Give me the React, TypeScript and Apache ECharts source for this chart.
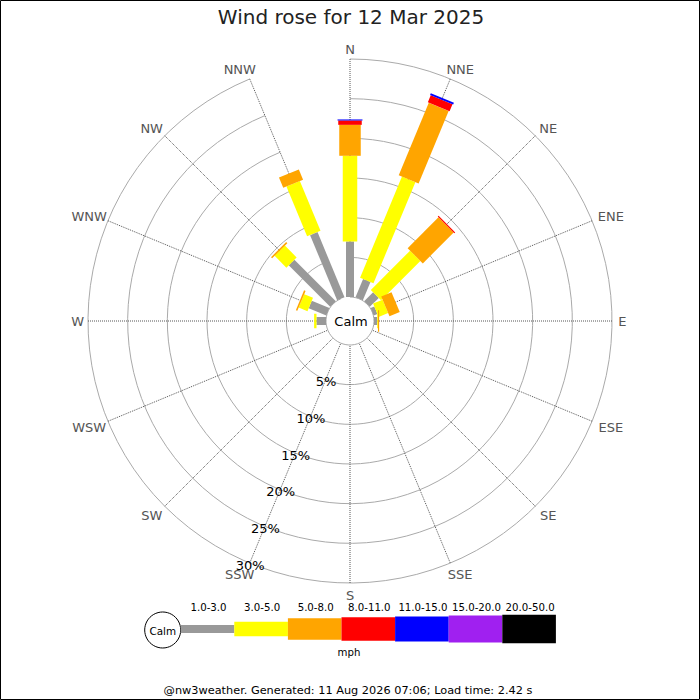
import React, { useEffect, useRef } from 'react';
import * as echarts from 'echarts';

const TITLE = 'Wind rose for 12 Mar 2025';
const FOOTER = '@nw3weather. Generated: 11 Aug 2026 07:06; Load time: 2.42 s';
const UNIT_LABEL = 'mph';
const CALM_LABEL = 'Calm';

const DIRS = ['N', 'NNE', 'NE', 'ENE', 'E', 'ESE', 'SE', 'SSE', 'S', 'SSW', 'SW', 'WSW', 'W', 'WNW', 'NW', 'NNW'];
const BAND_LABELS = ['1.0-3.0', '3.0-5.0', '5.0-8.0', '8.0-11.0', '11.0-15.0', '15.0-20.0', '20.0-50.0'];
const BAND_COLORS = ['#999999', '#ffff00', '#ffa500', '#ff0000', '#0000ff', '#a020f0', '#000000'];
const BAND_WIDTHS = [8, 14.5, 21.5, 23.5, 25, 27, 28.5];

// % of time per direction (N .. NNW) for each speed band (mph)
const S_1_3 = [7.0, 2.5, 1.6, 0.5, 0.4, 0, 0, 0, 0, 0, 0, 0, 1.2, 2.4, 7.4, 8.9];
const S_3_5 = [10.8, 13.8, 7.0, 1.3, 0.1, 0, 0, 0, 0, 0, 0, 0, 0.3, 1.2, 2.1, 6.8];
const S_5_8 = [3.9, 9.9, 5.5, 1.4, 0.15, 0, 0, 0, 0, 0, 0, 0, 0, 0.2, 0.2, 1.4];
const S_8_11 = [0.55, 0.95, 0.15, 0, 0, 0, 0, 0, 0, 0, 0, 0, 0, 0, 0, 0];
const S_11_15 = [0.13, 0.25, 0, 0, 0, 0, 0, 0, 0, 0, 0, 0, 0, 0, 0, 0];
const S_15_20 = [0, 0, 0, 0, 0, 0, 0, 0, 0, 0, 0, 0, 0, 0, 0, 0];
const S_20_50 = [0, 0, 0, 0, 0, 0, 0, 0, 0, 0, 0, 0, 0, 0, 0, 0];

const RADIUS_TICKS = [5, 10, 15, 20, 25, 30];
const RMAX = 30;
const LABEL_DIR = 'SSW';

const FONT = "'DejaVu Sans', sans-serif";

function txt(text: string, x: number, y: number, size: number, fill: string, align = 'center', valign = 'middle') {
  return {
    type: 'text',
    x,
    y,
    silent: true,
    style: {
      text,
      fill,
      font: `${size}px ${FONT}`,
      align,
      verticalAlign: valign,
      textAlign: align,
      textVerticalAlign: valign,
    },
  };
}

export default function App() {
  const ref = useRef<HTMLDivElement>(null);

  useEffect(() => {
    if (!ref.current) return;
    const chart = echarts.init(ref.current, null, { renderer: 'svg', width: 700, height: 700 });

    const bands = [S_1_3, S_3_5, S_5_8, S_8_11, S_11_15, S_15_20, S_20_50];
    const barData: number[][] = [];
    DIRS.forEach((_, d) => {
      let cum = 0;
      bands.forEach((arr, b) => {
        const v = arr[d];
        if (v > 0) {
          barData.push([cum + v, d, cum, b]);
          cum += v;
        }
      });
    });

    const unit = (api: any, d: number) => {
      const a = api.coord([0, d]);
      const b = api.coord([RMAX, d]);
      const dx = b[0] - a[0];
      const dy = b[1] - a[1];
      const L = Math.hypot(dx, dy) || 1;
      return [dx / L, dy / L];
    };

    const labelDirIdx = DIRS.indexOf(LABEL_DIR);

    // legend graphics
    const legendX0 = 180.7;
    const segW = 53.6;
    const legendY = 629;
    const legend: any[] = [];
    legend.push({
      type: 'circle',
      shape: { cx: 162.7, cy: 630, r: 18 },
      style: { fill: '#fff', stroke: '#000', lineWidth: 1 },
      silent: true,
    });
    legend.push(txt(CALM_LABEL, 162.7, 630.5, 10.4, '#000'));
    BAND_LABELS.forEach((lab, i) => {
      const h = BAND_WIDTHS[i];
      legend.push({
        type: 'rect',
        shape: { x: legendX0 + i * segW, y: legendY - h / 2, width: segW, height: h },
        style: { fill: BAND_COLORS[i] },
        silent: true,
      });
      legend.push(txt(lab, legendX0 + i * segW + segW / 2 + 1, 607, 10.2, '#000'));
    });

    const option: any = {
      animation: false,
      backgroundColor: '#fff',
      polar: { center: [350, 321], radius: [24, 262] },
      angleAxis: {
        type: 'category',
        data: DIRS,
        startAngle: 90,
        clockwise: true,
        boundaryGap: false,
        axisLine: { show: false },
        axisTick: { show: false },
        axisLabel: { show: false },
        splitLine: { show: true, lineStyle: { color: '#555', type: 'dotted', width: 1 } },
      },
      radiusAxis: {
        type: 'value',
        min: 0,
        max: RMAX,
        interval: 5,
        axisLine: { show: false },
        axisTick: { show: false },
        axisLabel: { show: false },
        splitLine: { show: true, lineStyle: { color: '#aaaaaa', width: 1 } },
      },
      series: [
        {
          type: 'custom',
          coordinateSystem: 'polar',
          data: barData,
          silent: true,
          renderItem: (params: any, api: any) => {
            const r1 = api.value(0);
            const d = api.value(1);
            const r0 = api.value(2);
            const b = api.value(3);
            const [ux, uy] = unit(api, d);
            const nx = -uy;
            const ny = ux;
            const p0 = api.coord([r0, d]);
            const p1 = api.coord([r1, d]);
            const h = BAND_WIDTHS[b] / 2;
            return {
              type: 'polygon',
              shape: {
                points: [
                  [p0[0] + nx * h, p0[1] + ny * h],
                  [p1[0] + nx * h, p1[1] + ny * h],
                  [p1[0] - nx * h, p1[1] - ny * h],
                  [p0[0] - nx * h, p0[1] - ny * h],
                ],
              },
              style: { fill: BAND_COLORS[b] },
            };
          },
        },
        {
          type: 'custom',
          coordinateSystem: 'polar',
          data: DIRS.map((_, i) => [RMAX, i]),
          silent: true,
          renderItem: (params: any, api: any) => {
            const d = api.value(1);
            const [ux, uy] = unit(api, d);
            const p = api.coord([RMAX, d]);
            const label = DIRS[params.dataIndex];
            const w = label.length * 8.8;
            const dx = Math.abs(ux) > 0.5 ? ux * 6 + Math.sign(ux) * (w / 2) : ux * 26;
            const dy = uy * 10 + (uy > 0.1 ? 2 : 0);
            return {
              type: 'text',
              x: p[0] + dx,
              y: p[1] + dy,
              style: {
                text: label,
                fill: '#555',
                font: `13px ${FONT}`,
                align: 'center',
                verticalAlign: 'middle',
                textAlign: 'center',
                textVerticalAlign: 'middle',
              },
            };
          },
        },
        {
          type: 'custom',
          coordinateSystem: 'polar',
          data: RADIUS_TICKS.map((v) => [v, labelDirIdx]),
          silent: true,
          z: 5,
          renderItem: (params: any, api: any) => {
            const v = api.value(0);
            const p = api.coord([v, api.value(1)]);
            return {
              type: 'text',
              x: p[0] + 0.5,
              y: p[1] + 2,
              style: {
                text: `${v}%`,
                fill: '#000',
                font: `13px ${FONT}`,
                align: 'center',
                verticalAlign: 'middle',
                textAlign: 'center',
                textVerticalAlign: 'middle',
              },
            };
          },
        },
      ],
      graphic: [
        {
          type: 'rect',
          shape: { x: 0.5, y: 0.5, width: 699, height: 699 },
          style: { fill: 'none', stroke: '#000', lineWidth: 1 },
          silent: true,
        },
        txt(TITLE, 351, 17, 20, '#222'),
        txt(CALM_LABEL, 351, 321.5, 13, '#000'),
        ...legend,
        txt(UNIT_LABEL, 349, 652.5, 10.2, '#000'),
        txt(FOOTER, 348, 690, 11.3, '#000'),
      ],
    };

    chart.setOption(option);
    return () => {
      chart.dispose();
    };
  }, []);

  return (
    <div
      ref={ref}
      style={{ position: 'fixed', left: 0, top: 0, width: 700, height: 700, background: '#fff' }}
    />
  );
}
